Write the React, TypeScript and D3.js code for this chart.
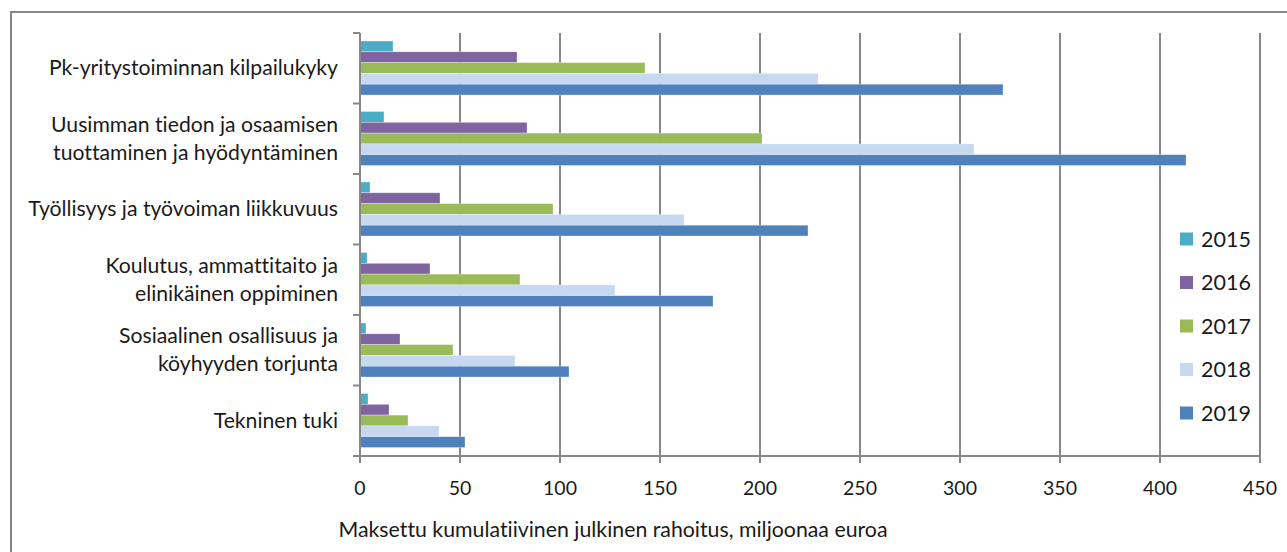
import * as d3 from "d3";
import React, { useEffect, useRef } from "react";

const categories = [
  ["Pk-yritystoiminnan kilpailukyky"],
  ["Uusimman tiedon ja osaamisen", "tuottaminen ja hyödyntäminen"],
  ["Työllisyys ja työvoiman liikkuvuus"],
  ["Koulutus, ammattitaito ja", "elinikäinen oppiminen"],
  ["Sosiaalinen osallisuus ja", "köyhyyden torjunta"],
  ["Tekninen tuki"],
];

const years = ["2015", "2016", "2017", "2018", "2019"];

// values per category, in year order
const v2015 = [16.5, 12, 5, 3.5, 3, 4];
const v2016 = [78.5, 83.5, 40, 35, 20, 14.5];
const v2017 = [142.5, 201, 96.5, 80, 46.5, 24];
const v2018 = [229, 307, 162, 127.5, 77.5, 39.5];
const v2019 = [321.5, 413, 224, 176.5, 104.5, 52.5];

const seriesValues = [v2015, v2016, v2017, v2018, v2019];
const colors = ["#4BACC6", "#8064A2", "#9BBB59", "#C6D9F1", "#4F81BD"];

const xTicks = [0, 50, 100, 150, 200, 250, 300, 350, 400, 450];
const axisTitle = "Maksettu kumulatiivinen julkinen rahoitus, miljoonaa euroa";

const W = 1287;
const H = 552;
const FONT = "Lato, 'Open Sans', sans-serif";

export default function App() {
  const svgRef = useRef<SVGSVGElement | null>(null);

  useEffect(() => {
    const svg = d3.select(svgRef.current);
    svg.selectAll("*").remove();

    const plot = { left: 360, right: 1260, top: 33, bottom: 456 };
    const grey = "#878787";

    // outer frame
    svg.append("path")
      .attr("d", `M11,${H + 5} L11,12 L${W + 5},12`)
      .attr("fill", "none")
      .attr("stroke", grey)
      .attr("stroke-width", 2);

    const x = d3.scaleLinear().domain([0, 450]).range([plot.left, plot.right]);
    const keys = categories.map((_, i) => String(i));
    const y = d3.scaleBand<string>().domain(keys).range([plot.top, plot.bottom]);
    const yIn = d3.scaleBand<string>().domain(years).range([8, y.bandwidth() - 8.5]);

    // gridlines
    svg.append("g")
      .selectAll("line")
      .data(xTicks.filter(t => t > 0))
      .join("line")
      .attr("x1", d => x(d))
      .attr("x2", d => x(d))
      .attr("y1", plot.top)
      .attr("y2", plot.bottom)
      .attr("stroke", grey)
      .attr("stroke-width", 2);

    // bars
    const rows = categories.flatMap((_, ci) =>
      years.map((yr, si) => ({ c: String(ci), yr, si, v: seriesValues[si][ci] }))
    );
    svg.append("g")
      .selectAll("rect")
      .data(rows)
      .join("rect")
      .attr("x", x(0))
      .attr("y", d => (y(d.c) ?? 0) + (yIn(d.yr) ?? 0))
      .attr("width", d => x(d.v) - x(0))
      .attr("height", yIn.bandwidth())
      .attr("fill", d => colors[d.si])
      .attr("stroke", "#ffffff")
      .attr("stroke-opacity", 0.5)
      .attr("stroke-width", 0.6);

    // y axis
    const gy = svg.append("g");
    gy.append("line")
      .attr("x1", plot.left).attr("x2", plot.left)
      .attr("y1", plot.top).attr("y2", plot.bottom)
      .attr("stroke", grey).attr("stroke-width", 2);
    gy.selectAll("line.tick")
      .data(d3.range(categories.length + 1))
      .join("line")
      .attr("class", "tick")
      .attr("x1", plot.left - 7).attr("x2", plot.left)
      .attr("y1", i => plot.top + i * y.step())
      .attr("y2", i => plot.top + i * y.step())
      .attr("stroke", grey).attr("stroke-width", 2);

    const lineH = 28;
    gy.selectAll("text")
      .data(categories)
      .join("text")
      .attr("text-anchor", "end")
      .attr("font-family", FONT)
      .attr("font-size", 21.2)
      .attr("fill", "#1a1a1a")
      .style("font-variant-ligatures", "none")
      .each(function (lines, i) {
        const cy = (y(String(i)) ?? 0) + y.bandwidth() / 2;
        const t = d3.select(this);
        lines.forEach((ln, li) => {
          t.append("tspan")
            .attr("x", 338)
            .attr("y", cy + (li - (lines.length - 1) / 2) * lineH)
            .attr("dy", "0.33em")
            .text(ln);
        });
      });

    // x axis
    const gx = svg.append("g");
    gx.append("line")
      .attr("x1", plot.left - 7).attr("x2", plot.right)
      .attr("y1", plot.bottom).attr("y2", plot.bottom)
      .attr("stroke", grey).attr("stroke-width", 2);
    gx.selectAll("line.tick")
      .data(xTicks)
      .join("line")
      .attr("class", "tick")
      .attr("x1", d => x(d)).attr("x2", d => x(d))
      .attr("y1", plot.bottom).attr("y2", plot.bottom + 7)
      .attr("stroke", grey).attr("stroke-width", 2);
    gx.selectAll("text")
      .data(xTicks)
      .join("text")
      .attr("x", d => x(d))
      .attr("y", 488)
      .attr("dy", "0.35em")
      .attr("text-anchor", "middle")
      .attr("font-family", FONT)
      .attr("font-size", 19.5)
      .attr("fill", "#1a1a1a")
      .text(d => String(d));

    svg.append("text")
      .attr("x", 613)
      .attr("y", 537)
      .attr("text-anchor", "middle")
      .attr("font-family", FONT)
      .attr("font-size", 21.3)
      .attr("fill", "#1a1a1a")
      .style("font-variant-ligatures", "none")
      .text(axisTitle);

    // legend
    const lg = svg.append("g");
    lg.append("rect")
      .attr("x", 1163).attr("y", 215)
      .attr("width", 96).attr("height", 222)
      .attr("fill", "#ffffff");
    const ly = d3.scalePoint<string>().domain(years).range([239, 413]);
    const items = lg.selectAll("g.item")
      .data(years)
      .join("g")
      .attr("class", "item")
      .attr("transform", d => `translate(1180,${ly(d)})`);
    items.append("rect")
      .attr("x", 0).attr("y", -6.5)
      .attr("width", 13).attr("height", 13)
      .attr("fill", (_, i) => colors[i]);
    items.append("text")
      .attr("x", 21)
      .attr("dy", "0.36em")
      .attr("font-family", FONT)
      .attr("font-size", 21.5)
      .attr("fill", "#1a1a1a")
      .text(d => d);
  }, []);

  return (
    <svg
      ref={svgRef}
      width={W}
      height={H}
      style={{ position: "absolute", left: 0, top: 0, background: "#fff" }}
    />
  );
}
